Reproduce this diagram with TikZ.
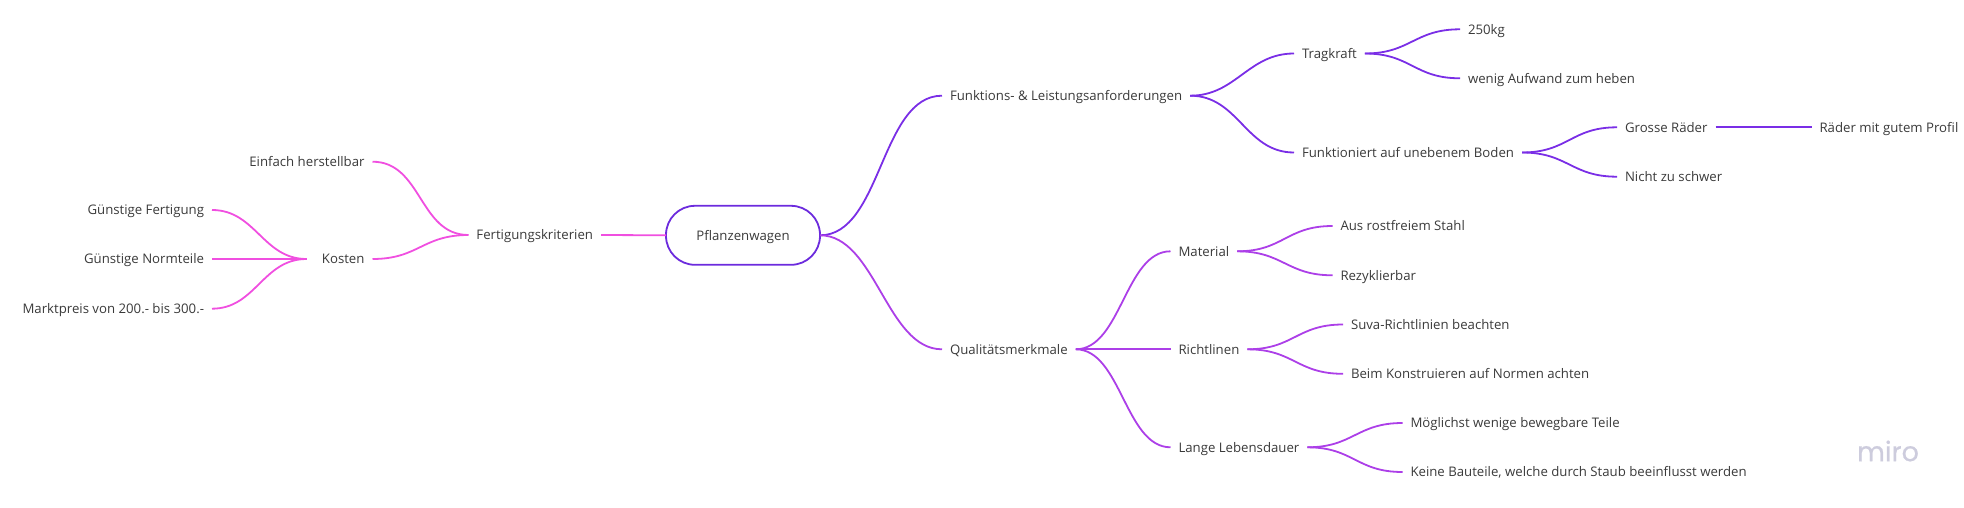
\documentclass[tikz,border=0pt]{standalone}
\usepackage{fontspec}
\setmainfont{Open Sans}
\newfontfamily\logofont[FakeBold=0.7]{Poppins}
\definecolor{txtgrey}{HTML}{3A3A3A}
\definecolor{violetline}{HTML}{7A2EE6}
\definecolor{purpleline}{HTML}{AC3FE8}
\definecolor{pinkline}{HTML}{F04FE0}
\definecolor{rootline}{HTML}{6C2BDD}
\definecolor{logogrey}{HTML}{CDCCDD}
\tikzset{
  item/.style={font=\fontsize{13.2}{15}\selectfont,text=txtgrey,inner xsep=8pt,inner ysep=0pt,outer sep=0pt,text height=11pt,text depth=1.5pt},
  rootbox/.style={item,draw=rootline,line width=1.8pt,rounded corners=29pt,minimum width=154pt,minimum height=59pt},
  fwd/.style={out=0,in=180,looseness=1.2},
  bwd/.style={out=180,in=0,looseness=1.2},
  fwdmid/.style={fwd,looseness=1.05},
  bwdmid/.style={bwd,looseness=1.05},
  fwdsteep/.style={fwd,looseness=.85},
  violetbranch/.style={draw=violetline,line width=1.8pt},
  purplebranch/.style={draw=purpleline,line width=1.8pt},
  pinkbranch/.style={draw=pinkline,line width=1.8pt}
}
\begin{document}
\begin{tikzpicture}[x=1pt,y=-1pt]
  \useasboundingbox (0,0) rectangle (1964,508);
  \node[rootbox] (root) at (743,235.3) {Pflanzenwagen};

  % left side
  \node[item,anchor=east] (fertigung) at (601,235) {Fertigungskriterien};
  \node[item,anchor=east] (einfach) at (372.5,161.7) {Einfach herstellbar};
  \node[item,anchor=east,text width=50pt,align=right] (kosten) at (372.5,259) {Kosten};
  \node[item,anchor=east] (gfertigung) at (212,210) {Günstige Fertigung};
  \node[item,anchor=east] (gnormteile) at (212,259) {Günstige Normteile};
  \node[item,anchor=east] (marktpreis) at (212,308.7) {Marktpreis von 200.- bis 300.-};

  % upper right side
  \node[item,anchor=west] (funktionen) at (942,95.7) {Funktions- \& Leistungsanforderungen};
  \node[item,anchor=west] (tragkraft) at (1294,53.5) {Tragkraft};
  \node[item,anchor=west] (kg) at (1460,29.3) {250kg};
  \node[item,anchor=west] (aufwand) at (1460,78.3) {wenig Aufwand zum heben};
  \node[item,anchor=west] (boden) at (1294,152.5) {Funktioniert auf unebenem Boden};
  \node[item,anchor=west] (raeder) at (1617,127.3) {Grosse Räder};
  \node[item,anchor=west] (profil) at (1811.5,127.3) {Räder mit gutem Profil};
  \node[item,anchor=west] (schwer) at (1617,176.7) {Nicht zu schwer};

  % lower right side
  \node[item,anchor=west] (qualitaet) at (942,349.3) {Qualitätsmerkmale};
  \node[item,anchor=west] (material) at (1170.5,251.3) {Material};
  \node[item,anchor=west] (stahl) at (1332.5,226) {Aus rostfreiem Stahl};
  \node[item,anchor=west] (rezykl) at (1332.5,275.3) {Rezyklierbar};
  \node[item,anchor=west] (richtlinen) at (1170.5,349.3) {Richtlinen};
  \node[item,anchor=west] (suva) at (1343,324.5) {Suva-Richtlinien beachten};
  \node[item,anchor=west] (normen) at (1343,373.8) {Beim Konstruieren auf Normen achten};
  \node[item,anchor=west] (dauer) at (1170.5,447.3) {Lange Lebensdauer};
  \node[item,anchor=west] (teile) at (1402.5,423) {Möglichst wenige bewegbare Teile};
  \node[item,anchor=west] (staub) at (1402.5,472) {Keine Bauteile, welche durch Staub beeinflusst werden};

  \node[font=\logofont\fontsize{27}{27}\selectfont,text=logogrey,inner sep=0pt] (logo) at (1888,451) {miro};

  % connectors
  \draw[pinkbranch] (root.west) -- (fertigung.east);
  \draw[pinkbranch] (fertigung.west) to[bwdmid] (einfach.east);
  \draw[pinkbranch] (fertigung.west) to[bwd] (kosten.east);
  \draw[pinkbranch] (kosten.west) to[bwdmid] (gfertigung.east);
  \draw[pinkbranch] (kosten.west) -- (gnormteile.east);
  \draw[pinkbranch] (kosten.west) to[bwdmid] (marktpreis.east);

  \draw[violetbranch] (root.east) to[fwdsteep] (funktionen.west);
  \draw[violetbranch] (funktionen.east) to[fwdmid] (tragkraft.west);
  \draw[violetbranch] (funktionen.east) to[fwdmid] (boden.west);
  \draw[violetbranch] (tragkraft.east) to[fwd] (kg.west);
  \draw[violetbranch] (tragkraft.east) to[fwd] (aufwand.west);
  \draw[violetbranch] (boden.east) to[fwd] (raeder.west);
  \draw[violetbranch] (boden.east) to[fwd] (schwer.west);
  \draw[violetbranch] (raeder.east) -- (profil.west);

  \draw[purplebranch] (root.east) to[fwdsteep] (qualitaet.west);
  \draw[purplebranch] (qualitaet.east) to[fwdsteep] (material.west);
  \draw[purplebranch] (qualitaet.east) -- (richtlinen.west);
  \draw[purplebranch] (qualitaet.east) to[fwdsteep] (dauer.west);
  \draw[purplebranch] (material.east) to[fwd] (stahl.west);
  \draw[purplebranch] (material.east) to[fwd] (rezykl.west);
  \draw[purplebranch] (richtlinen.east) to[fwd] (suva.west);
  \draw[purplebranch] (richtlinen.east) to[fwd] (normen.west);
  \draw[purplebranch] (dauer.east) to[fwd] (teile.west);
  \draw[purplebranch] (dauer.east) to[fwd] (staub.west);
\end{tikzpicture}
\end{document}
